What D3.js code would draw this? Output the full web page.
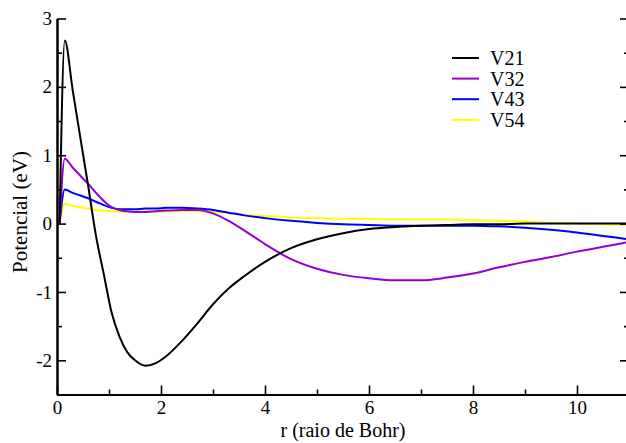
<!DOCTYPE html>
<html>
<head>
<meta charset="utf-8">
<script src="https://cdn.jsdelivr.net/npm/d3@7"></script>
<style>
  body { margin: 0; background: #fff; }
  svg text { font-family: "Liberation Serif", "Times New Roman", serif; fill: #000; }
</style>
</head>
<body>
<div id="chart"></div>
<script>
// radial grid (bohr) shared by the four potentials
const r = [0.05, 0.15, 0.3, 0.45, 0.6, 0.75, 0.9, 1.05, 1.2, 1.35, 1.5, 1.7, 1.9, 2.1, 2.4, 2.7,
  3.0, 3.3, 3.6, 4.0, 4.5, 5.0, 5.5, 6.0, 6.5, 7.0, 7.5, 8.0, 8.5, 9.0, 9.5, 10.0, 10.5, 11.0];
const V21 = [0, 2.68, 1.96, 1.25, 0.55, -0.18, -0.74, -1.3, -1.65, -1.88, -2.0, -2.08, -2.04, -1.94, -1.72, -1.46,
  -1.18, -0.95, -0.77, -0.56, -0.36, -0.23, -0.14, -0.08, -0.05, -0.03, -0.02, -0.01, -0.01, 0, 0, 0, 0, 0];
const V32 = [0, 0.95, 0.82, 0.7, 0.58, 0.45, 0.33, 0.24, 0.2, 0.18, 0.17, 0.17, 0.18, 0.19, 0.2, 0.2,
  0.15, 0.04, -0.1, -0.3, -0.52, -0.66, -0.75, -0.8, -0.83, -0.83, -0.79, -0.73, -0.64, -0.56, -0.49, -0.41, -0.34, -0.27];
const V43 = [0, 0.5, 0.45, 0.41, 0.37, 0.32, 0.27, 0.23, 0.21, 0.21, 0.21, 0.22, 0.22, 0.23, 0.23, 0.22,
  0.2, 0.16, 0.12, 0.08, 0.04, 0.01, -0.01, -0.02, -0.03, -0.03, -0.03, -0.03, -0.04, -0.06, -0.09, -0.13, -0.18, -0.23];
const V54 = [0, 0.29, 0.26, 0.24, 0.22, 0.2, 0.19, 0.18, 0.17, 0.17, 0.17, 0.17, 0.17, 0.18, 0.18, 0.18,
  0.17, 0.15, 0.13, 0.11, 0.09, 0.08, 0.07, 0.07, 0.06, 0.06, 0.06, 0.05, 0.04, 0.03, 0.01, 0, -0.01, -0.02];

const seriesNames = ['V21', 'V32', 'V43', 'V54'];
const seriesValues = [V21, V32, V43, V54];
const seriesColours = ['#000000', '#9400d3', '#0000ff', '#ffff00'];

const xMajor = [0, 2, 4, 6, 8, 10];
const xMinor = [1, 3, 5, 7, 9, 11];
const yMajor = [-2, -1, 0, 1, 2, 3];
const yMinor = [-2.5, -1.5, -0.5, 0.5, 1.5, 2.5];

const width = 626, height = 443;
const margin = { top: 18.5, right: -3, bottom: 48.5, left: 57 };
const w = width - margin.left - margin.right;
const h = height - margin.top - margin.bottom;

const svg = d3.select('#chart').append('svg')
  .attr('width', width)
  .attr('height', height);

const x = d3.scaleLinear().domain([0, 11]).range([0, w]);
const y = d3.scaleLinear().domain([-2.5, 3]).range([h, 0]);

const chart = svg.append('g')
  .attr('transform', `translate(${margin.left},${margin.top})`);

svg.append('defs').append('clipPath').attr('id', 'plot-clip')
  .append('rect').attr('width', w).attr('height', h);

// curves
const line = d3.line()
  .x(d => x(d[0]))
  .y(d => y(d[1]))
  .curve(d3.curveMonotoneX);

chart.append('g').attr('clip-path', 'url(#plot-clip)')
  .selectAll('path')
  .data(seriesValues.map((vals, i) => ({ name: seriesNames[i], pts: r.map((rv, j) => [rv, vals[j]]) })).reverse())
  .join('path')
  .attr('fill', 'none')
  .attr('stroke', d => seriesColours[seriesNames.indexOf(d.name)])
  .attr('stroke-width', 2)
  .attr('d', d => line(d.pts));

// axes
const plain = d => String(d);   // hyphen minus, like the original
function styleAxis(g) {
  g.select('.domain').attr('stroke-width', 2);
  g.selectAll('.tick line').attr('stroke-width', 1.6);
  g.selectAll('.tick text').style('font-size', '19px');
}

chart.append('g')
  .attr('transform', `translate(0,${h})`)
  .call(d3.axisBottom(x).tickValues(xMinor).tickSize(-5).tickSizeOuter(0).tickFormat(''))
  .call(styleAxis);
chart.append('g')
  .attr('transform', `translate(0,${h})`)
  .call(d3.axisBottom(x).tickValues(xMajor).tickSize(-9).tickSizeOuter(0).tickPadding(5).tickFormat(plain))
  .call(styleAxis)
  .selectAll('.tick text').attr('dy', '0.75em');

chart.append('g')
  .call(d3.axisLeft(y).tickValues(yMinor).tickSize(-5).tickSizeOuter(0).tickFormat(''))
  .call(styleAxis);
chart.append('g')
  .call(d3.axisLeft(y).tickValues(yMajor).tickSize(-9).tickSizeOuter(0).tickPadding(5).tickFormat(plain))
  .call(styleAxis);

// mirrored ticks on the right edge
chart.append('g')
  .attr('transform', `translate(${w},0)`)
  .call(d3.axisRight(y).tickValues(yMinor).tickSize(-5).tickSizeOuter(0).tickFormat(''))
  .call(styleAxis);
chart.append('g')
  .attr('transform', `translate(${w},0)`)
  .call(d3.axisRight(y).tickValues(yMajor).tickSize(-9).tickSizeOuter(0).tickFormat(''))
  .call(styleAxis);

// axis titles
svg.append('text')
  .attr('x', margin.left + w / 2)
  .attr('y', 437)
  .attr('text-anchor', 'middle')
  .style('font-size', '20px')
  .text('r (raio de Bohr)');

svg.append('text')
  .attr('transform', `translate(27,212) rotate(-90)`)
  .attr('text-anchor', 'middle')
  .style('font-size', '21px')
  .text('Potencial (eV)');

// legend
const legend = svg.append('g').attr('transform', 'translate(452,58)');
const rows = legend.selectAll('g')
  .data(seriesNames)
  .join('g')
  .attr('transform', (d, i) => `translate(0,${i * 20.6})`);
rows.append('line')
  .attr('x1', 0).attr('x2', 27)
  .attr('stroke', (d, i) => seriesColours[i])
  .attr('stroke-width', 2);
rows.append('text')
  .attr('x', 38)
  .attr('dy', '0.35em')
  .style('font-size', '20px')
  .text(d => d);
</script>
</body>
</html>
